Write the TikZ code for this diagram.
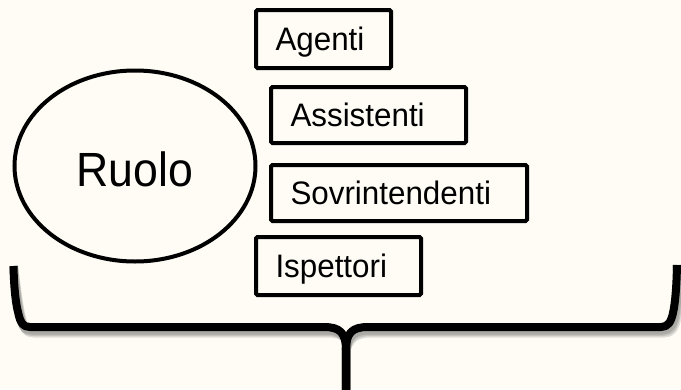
\documentclass[tikz,border=0pt]{standalone}
\usepackage{fontspec}
\setmainfont{Liberation Sans}
\newfontfamily\boxfont[FakeStretch=0.965]{Liberation Sans}
\newfontfamily\rolefont[FakeStretch=0.93]{Liberation Sans}
\usetikzlibrary{shapes.geometric}
\definecolor{bgcream}{RGB}{254,252,245}
\begin{document}
\begin{tikzpicture}[x=1pt,y=-1pt,
  rolebox/.style={draw=black, line width=4pt, rounded corners=1.5pt,
    inner xsep=19.5pt, inner ysep=0pt, align=left,
    font=\boxfont\fontsize{32.5}{38}\selectfont, text height=23.3pt, text depth=0pt},
  roleellipse/.style={draw=black, ellipse, line width=4pt, inner sep=0pt,
    font=\rolefont\fontsize{48}{56}\selectfont, text height=41pt, text depth=0pt},
  bracestroke/.style={line width=8pt, line join=round},
  braceshadow/.style={line width=9pt, line join=round, draw=black, opacity=0.12}
]
\path[use as bounding box, fill=bgcream] (0,0) rectangle (681,389);
\clip (0,0) rectangle (681,389);

% role ellipse
\node[roleellipse, minimum width=241pt, minimum height=191pt] (ruolo) at (135,166) {Ruolo};

% boxes
\node[rolebox, text width=96pt, minimum height=58pt] (agenti) at (323.5,39) {Agenti};
\node[rolebox, text width=156pt, minimum height=56pt] (assistenti) at (368.5,115) {Assistenti};
\node[rolebox, text width=217pt, minimum height=56pt] (sovr) at (399,193) {Sovrintendenti};
\node[rolebox, text width=126pt, minimum height=58pt] (ispettori) at (338.5,266) {Ispettori};

% brace
\coordinate (bl) at (13.5,266);
\coordinate (br) at (677,265);
\coordinate (cusp) at (346,350);
\coordinate (tip) at (346,395);

\foreach \dx/\dy in {1.5/3, 2.5/4.5, 3.5/6}{
\begin{scope}[shift={(\dx,\dy)}]
\draw[braceshadow] (bl) .. controls (14,290) and (16,305) .. (18.5,314)
  .. controls (20.5,323) and (23,327) .. (30,327) -- (324,327)
  .. controls (340,327) and (346,333) .. (cusp) -- (tip);
\draw[braceshadow] (br) .. controls (676.5,289) and (675,304) .. (673,313)
  .. controls (671,322) and (668,327) .. (661,327) -- (368,327)
  .. controls (352,327) and (346,333) .. (cusp) -- (tip);
\end{scope}
}
\draw[bracestroke] (bl) .. controls (14,290) and (16,305) .. (18.5,314)
  .. controls (20.5,323) and (23,327) .. (30,327) -- (324,327)
  .. controls (340,327) and (346,333) .. (cusp) -- (tip);
\draw[bracestroke] (br) .. controls (676.5,289) and (675,304) .. (673,313)
  .. controls (671,322) and (668,327) .. (661,327) -- (368,327)
  .. controls (352,327) and (346,333) .. (cusp) -- (tip);
\end{tikzpicture}
\end{document}
